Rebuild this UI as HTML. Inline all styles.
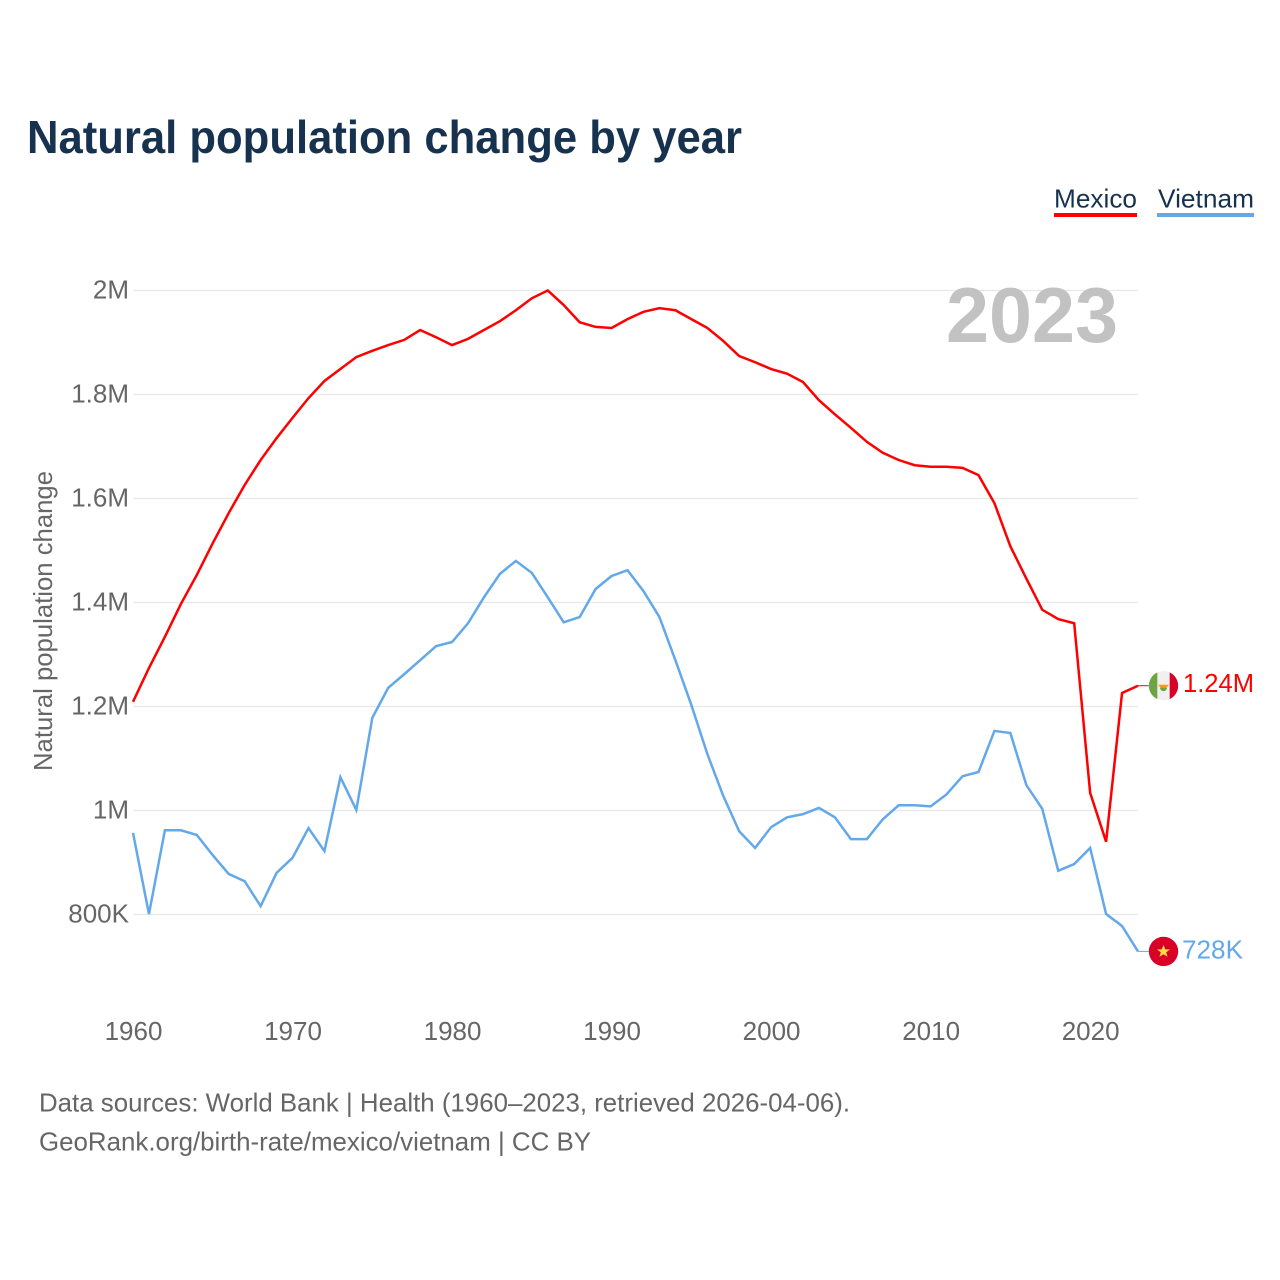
<!DOCTYPE html>
<html lang="en">
<head>
<meta charset="utf-8">
<title>Natural population change by year</title>
<style>
html,body{margin:0;padding:0;background:#fff;width:1280px;height:1280px;overflow:hidden}
svg{display:block}
text{font-family:"Liberation Sans",sans-serif}
</style>
</head>
<body>
<svg id="chart" width="1280" height="1280" viewBox="0 0 1280 1280" xmlns="http://www.w3.org/2000/svg">
  <text x="27" y="153" font-size="46" font-weight="700" fill="#17324f" textLength="715" lengthAdjust="spacingAndGlyphs">Natural population change by year</text>

  <g>
    <g>
      <text x="1054" y="207.5" font-size="26" fill="#17324f" textLength="83" lengthAdjust="spacingAndGlyphs">Mexico</text>
      <rect x="1054" y="213" width="83" height="4" fill="#ff0000"/>
    </g>
    <g>
      <text x="1158" y="207.5" font-size="26" fill="#17324f" textLength="96" lengthAdjust="spacingAndGlyphs">Vietnam</text>
      <rect x="1157" y="213" width="97" height="4" fill="#63a8ea"/>
    </g>
  </g>

  <g id="grid"></g>
  <text x="946" y="342" font-size="78" font-weight="700" fill="#c2c2c2" textLength="172" lengthAdjust="spacingAndGlyphs">2023</text>
  <g id="ylabels"></g>
  <g id="xlabels"></g>
  <text transform="translate(52 771) rotate(-90)" font-size="26" fill="#666666" textLength="300" lengthAdjust="spacingAndGlyphs">Natural population change</text>
  <g id="series"></g>
  <g id="ends"></g>

  <text x="39" y="1111.5" font-size="26" fill="#666666" textLength="811" lengthAdjust="spacingAndGlyphs">Data sources: World Bank | Health (1960–2023, retrieved 2026-04-06).</text>
  <text x="39" y="1150.5" font-size="26" fill="#666666" textLength="552" lengthAdjust="spacingAndGlyphs">GeoRank.org/birth-rate/mexico/vietnam | CC BY</text>
</svg>
<script>
const startYear = 1960;
const xTickYears = [1960, 1970, 1980, 1990, 2000, 2010, 2020];
const yTickValues = [800000, 1000000, 1200000, 1400000, 1600000, 1800000, 2000000];
const yTickLabels = ["800K", "1M", "1.2M", "1.4M", "1.6M", "1.8M", "2M"];
const mexicoValues = [1209000,1274000,1334000,1397000,1453000,1514000,1572000,1626000,1674000,1716000,1755000,1793000,1826000,1849000,1872000,1884000,1895000,1905000,1924000,1910000,1895000,1907000,1924000,1941000,1962000,1985000,2000000,1972000,1939000,1930000,1928000,1945000,1959000,1966000,1962000,1945000,1928000,1903000,1874000,1862000,1849000,1840000,1824000,1789000,1762000,1736000,1709000,1688000,1674000,1664000,1661000,1661000,1659000,1645000,1591000,1508000,1446000,1386000,1368000,1360000,1034000,940000,1226000,1240000];
const vietnamValues = [957000,801000,962000,962000,953000,914000,878000,864000,816000,880000,909000,966000,922000,1064000,1001000,1178000,1236000,1262000,1289000,1316000,1324000,1360000,1410000,1455000,1480000,1457000,1410000,1362000,1372000,1426000,1451000,1462000,1422000,1372000,1289000,1203000,1109000,1028000,960000,928000,968000,987000,993000,1005000,987000,945000,945000,983000,1010000,1010000,1008000,1031000,1066000,1074000,1153000,1149000,1049000,1003000,884000,897000,928000,801000,778000,729000];
const mexicoEndLabel = "1.24M";
const vietnamEndLabel = "728K";

const NS = "http://www.w3.org/2000/svg";
const plot = {left: 133, right: 1138, y2M: 290.5, y800K: 914.5};
function xScale(year) {
  return plot.left + (year - 1960) * (plot.right - plot.left) / 63;
}
function yScale(value) {
  return plot.y800K - (value - 800000) * (plot.y800K - plot.y2M) / 1200000;
}
function make(tag, attrs, parent) {
  const el = document.createElementNS(NS, tag);
  for (const k in attrs) el.setAttribute(k, attrs[k]);
  parent.appendChild(el);
  return el;
}

const gridG = document.getElementById("grid");
const yLabG = document.getElementById("ylabels");
yTickValues.forEach(function (v, i) {
  const line = make("line", {x1: plot.left, x2: plot.right, y1: yScale(v), y2: yScale(v), stroke: "#e8e8e8", "stroke-width": 1.3}, gridG);
  
  
  const t = make("text", {x: 129, y: yScale(v) + 8, "text-anchor": "end", "font-size": 26, fill: "#666666"}, yLabG);
  
  
  t.textContent = yTickLabels[i];
});

const xLabG = document.getElementById("xlabels");
xTickYears.forEach(function (yr) {
  const t = make("text", {x: xScale(yr) + 0.5, y: 1040, "text-anchor": "middle", "font-size": 26, fill: "#666666"}, xLabG);
  
  
  t.textContent = String(yr);
});

function pathFor(values) {
  return values.map(function (v, i) {
    return (i ? "L" : "M") + xScale(startYear + i).toFixed(2) + " " + yScale(v).toFixed(2);
  }).join(" ");
}
const seriesG = document.getElementById("series");
const vietnamLine = make("path", {d: pathFor(vietnamValues), fill: "none", stroke: "#63a8ea", "stroke-width": 2.5, "stroke-linejoin": "miter"}, seriesG);


const mexicoLine = make("path", {d: pathFor(mexicoValues), fill: "none", stroke: "#ff0000", "stroke-width": 2.5, "stroke-linejoin": "miter"}, seriesG);



const endsG = document.getElementById("ends");
const flagX = 1163.5;
const lastYear = startYear + mexicoValues.length - 1;

const mY = yScale(mexicoValues[mexicoValues.length - 1]);
const mConn = make("line", {x1: xScale(lastYear), x2: flagX - 14.7, y1: mY, y2: mY, stroke: "#ff0000", "stroke-width": 1}, endsG);


const mFlag = make("g", {transform: "translate(" + flagX + " " + mY + ")"}, endsG);


make("circle", {r: 14.7, fill: "#f0f0f0"}, mFlag);
make("path", {d: "M-6.2 -13.3 A14.7 14.7 0 0 0 -6.2 13.3 Z", fill: "#6da544"}, mFlag);
make("path", {d: "M6.2 -13.3 A14.7 14.7 0 0 1 6.2 13.3 Z", fill: "#d80027"}, mFlag);
make("path", {d: "M-5.5 -1 H5.5 L2 3 H-2 Z", fill: "#ff9811"}, mFlag);
make("path", {d: "M-3.5 2 A3.5 3.5 0 0 0 3.5 2 Z", fill: "#6da544"}, mFlag);
const mLabel = make("text", {x: 1183, y: mY + 6.3, "font-size": 26, fill: "#ff0000", textLength: 71, lengthAdjust: "spacingAndGlyphs"}, endsG);


mLabel.textContent = mexicoEndLabel;

const vY = yScale(vietnamValues[vietnamValues.length - 1]);
const vConn = make("line", {x1: xScale(lastYear), x2: flagX - 14.7, y1: vY, y2: vY, stroke: "#63a8ea", "stroke-width": 1}, endsG);


const vFlag = make("g", {transform: "translate(" + flagX + " " + vY + ")"}, endsG);


make("circle", {r: 14.7, fill: "#d80027"}, vFlag);
make("polygon", {points: "0,-6.5 1.8,-2 6.5,-2 2.7,0.9 4.1,5.5 0,2.8 -4.1,5.5 -2.7,0.9 -6.5,-2 -1.8,-2", fill: "#ffda44"}, vFlag);
const vLabel = make("text", {x: 1182, y: vY + 7, "font-size": 26, fill: "#63a8ea", textLength: 61, lengthAdjust: "spacingAndGlyphs"}, endsG);


vLabel.textContent = vietnamEndLabel;
</script>
</body>
</html>
